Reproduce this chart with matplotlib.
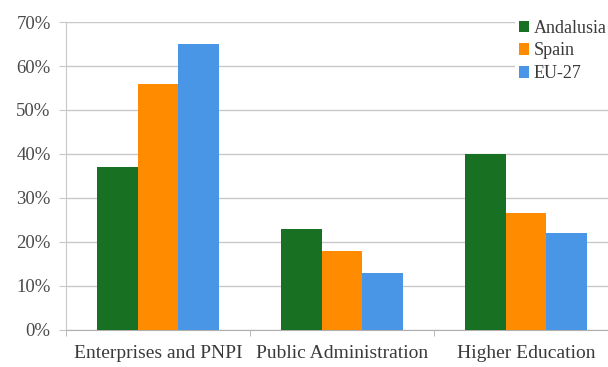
import numpy as np
import matplotlib
matplotlib.use("Agg")
import matplotlib.pyplot as plt
from matplotlib.ticker import MultipleLocator, FuncFormatter

plt.rcParams["font.family"] = ["Liberation Serif", "DejaVu Serif"]

categories = ["Enterprises and PNPI", "Public Administration", "Higher Education"]
series = ["Andalusia", "Spain", "EU-27"]
andalusia = [37, 23, 40]
spain = [56, 18, 26.5]
eu27 = [65, 13, 22]
colors = ["#187022", "#ff8c00", "#4a96e6"]

fig = plt.figure(figsize=(6.08, 3.67), dpi=100)
# plot area runs a little past the right edge of the canvas
ax = fig.add_axes([66 / 608, 1 - 330 / 367, 552 / 608, 308 / 367])

x = np.arange(len(categories))
bw = 1 / 4.5
for i, (name, vals) in enumerate(zip(series, [andalusia, spain, eu27])):
    ax.bar(x + (i - 1) * bw, vals, width=bw, color=colors[i], label=name,
           zorder=3, linewidth=0)

ax.set_xlim(-0.5, len(categories) - 0.5)
ax.set_ylim(0, 70)
ax.yaxis.set_major_locator(MultipleLocator(10))
ax.yaxis.set_major_formatter(FuncFormatter(lambda v, p: f"{v:.0f}%"))
ax.grid(axis="y", color="#c8c8c8", linewidth=1.0, zorder=0)

ax.set_xticks(x)
ax.set_xticklabels(categories)
ax.set_xticks(np.arange(len(categories) + 1) - 0.5, minor=True)
ax.tick_params(axis="x", which="major", length=0, pad=11, labelsize=14,
               colors="#3a3a3a")
ax.tick_params(axis="x", which="minor", length=4, color="#b0b0b0")
ax.tick_params(axis="y", length=5, pad=6, labelsize=13.5,
               colors="#c8c8c8", labelcolor="#4a4a4a")

for side in ["top", "right"]:
    ax.spines[side].set_visible(False)
ax.spines["left"].set_color("#c8c8c8")
ax.spines["bottom"].set_color("#b0b0b0")

leg = ax.legend(loc="upper left", bbox_to_anchor=(515 / 608, 1 - 16 / 367),
                bbox_transform=fig.transFigure, frameon=True, fancybox=False,
                edgecolor="none", facecolor="white", framealpha=1,
                handlelength=0.6, handleheight=0.6, handletextpad=0.25,
                labelspacing=0.32, borderpad=0.2, borderaxespad=0,
                fontsize=13)
for t in leg.get_texts():
    t.set_color("#3a3a3a")
leg.set_zorder(5)

fig.savefig("out.png", dpi=100)
